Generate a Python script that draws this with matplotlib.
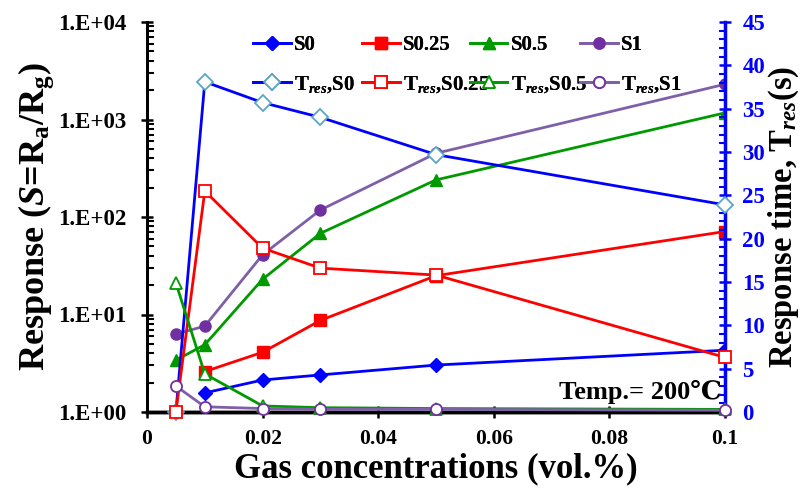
import matplotlib
matplotlib.use('Agg')
import matplotlib.pyplot as plt
from matplotlib.ticker import LogLocator, MultipleLocator, FixedLocator, NullFormatter

# data
conc = [0.005, 0.01, 0.02, 0.03, 0.05, 0.1]
s0 = [None, 1.57, 2.13, 2.4, 3.03, 4.3]
s025 = [None, 2.6, 4.1, 8.7, 25, 71]
s05 = [3.4, 4.9, 23, 68, 240, 1170]
s1 = [6.3, 7.6, 41, 118, 450, 2300]

tres_s0 = [0, 38.1, 35.7, 34.0, 29.7, 23.9]
tres_s025 = [0, 25.5, 18.9, 16.6, 15.8, 6.3]
tres_s05 = [14.9, 4.4, 0.7, 0.5, 0.4, 0.3]
tres_s1 = [3.0, 0.6, 0.4, 0.3, 0.3, 0.2]

x_ticks = [0, 0.02, 0.04, 0.06, 0.08, 0.1]
x_labels = ['0', '0.02', '0.04', '0.06', '0.08', '0.1']
y_ticks = [1, 10, 100, 1000, 10000]
y_labels = ['1.E+00', '1.E+01', '1.E+02', '1.E+03', '1.E+04']

plt.rcParams['font.family'] = ['Liberation Serif', 'DejaVu Serif']
plt.rcParams['font.weight'] = 'bold'
plt.rcParams['mathtext.fontset'] = 'custom'
plt.rcParams['mathtext.rm'] = 'Liberation Serif:bold'
plt.rcParams['mathtext.it'] = 'Liberation Serif:bold:italic'
plt.rcParams['mathtext.bf'] = 'Liberation Serif:bold'

blue = '#0000ff'
red = '#ff0000'
green = '#009a00'
purple = '#7030a0'
purple_line = '#7f60a8'
light_blue = '#5aa5c8'

fig = plt.figure(figsize=(8.06, 4.88), dpi=100)
ax = fig.add_axes([147/806, 1 - 412/488, (725 - 147)/806, (412 - 22)/488])
ax2 = ax.twinx()


def pairs(xs, ys):
    pts = [(a, b) for a, b in zip(xs, ys) if b is not None]
    return [p[0] for p in pts], [p[1] for p in pts]


# response curves (left, log scale)
x, y = pairs(conc, s0)
h1, = ax.plot(x, y, color=blue, lw=2, marker='D', ms=7, mfc=blue, mec=blue, label='S0')
x, y = pairs(conc, s025)
h2, = ax.plot(x, y, color=red, lw=2, marker='s', ms=8, mfc=red, mec=red, label='S0.25')
x, y = pairs(conc, s05)
h3, = ax.plot(x, y, color=green, lw=2, marker='^', ms=9, mfc=green, mec=green, label='S0.5')
x, y = pairs(conc, s1)
h4, = ax.plot(x, y, color=purple_line, lw=2, marker='o', ms=8, mfc=purple, mec=purple, label='S1')

# response time curves (right)
g1, = ax2.plot(conc, tres_s0, color=blue, lw=2, marker='D', ms=8, mfc='white', mec=light_blue,
               mew=1.3, label='T$_{\\mathit{res}}$,S0', clip_on=False, zorder=5)
g2, = ax2.plot(conc, tres_s025, color=red, lw=2, marker='s', ms=9, mfc='white', mec=red,
               mew=1.3, label='T$_{\\mathit{res}}$,S0.25', clip_on=False, zorder=5)
g3, = ax2.plot(conc, tres_s05, color=green, lw=2, marker='^', ms=9, mfc='white', mec=green,
               mew=1.3, label='T$_{\\mathit{res}}$,S0.5', clip_on=False, zorder=5)
g4, = ax2.plot(conc, tres_s1, color=purple_line, lw=2, marker='o', ms=8, mfc='white', mec=purple,
               mew=1.3, label='T$_{\\mathit{res}}$,S1', clip_on=False, zorder=5)

# left axis
ax.set_yscale('log')
ax.set_ylim(1, 10000)
ax.set_xlim(0, 0.1)
ax.yaxis.set_major_locator(FixedLocator(y_ticks))
ax.set_yticklabels(y_labels)
ax.yaxis.set_minor_locator(LogLocator(base=10, subs=range(2, 10)))
ax.yaxis.set_minor_formatter(NullFormatter())
ax.set_xticks(x_ticks)
ax.set_xticklabels(x_labels)
ax.tick_params(axis='y', which='major', direction='inout', length=9, width=1.8, labelsize=16.5, pad=10)
ax.tick_params(axis='y', which='minor', direction='in', length=5, width=1.5)
ax.tick_params(axis='x', which='major', direction='inout', length=9, width=1.8, labelsize=15.5, pad=8)
ax.set_ylabel('Response ($\\mathit{S}$=R$_\\mathrm{a}$/R$_\\mathrm{g}$)', fontsize=26,
              fontweight='bold', labelpad=2)
ax.set_xlabel('Gas concentrations (vol.%)', fontsize=25, fontweight='bold', labelpad=2)

# right axis
ax2.set_ylim(0, 45)
ax2.yaxis.set_major_locator(MultipleLocator(5))
ax2.yaxis.set_minor_locator(MultipleLocator(1))
ax2.tick_params(axis='y', which='major', direction='inout', length=9, width=1.8, colors=blue,
                labelsize=16.5, pad=8)
ax2.tick_params(axis='y', which='minor', direction='in', length=4, width=1.5, colors=blue)
for lbl in ax2.get_yticklabels():
    lbl.set_fontweight('bold')
ax2.set_ylabel('Response time, T$_{\\mathit{res}}$(s)', fontsize=23.5, fontweight='bold', labelpad=1)

for a in (ax, ax2):
    a.spines['top'].set_visible(False)
    a.spines['left'].set_linewidth(2)
    a.spines['bottom'].set_linewidth(2.5)
ax2.spines['right'].set_color(blue)
ax2.spines['right'].set_linewidth(2.5)
ax.spines['right'].set_visible(False)

ax.text(0.0995, 1.22, 'Temp.= 200\u2103', ha='right', va='bottom', fontsize=19, fontweight='bold')

# one small legend per column so the columns sit where they do in the original
col_x = [253, 362, 470, 580]
for cx, pair in zip(col_x, [(h1, g1), (h2, g2), (h3, g3), (h4, g4)]):
    leg = fig.legend(handles=list(pair), loc='upper left', bbox_to_anchor=(cx/806, 1 - 35/488),
                     frameon=False, fontsize=15, handlelength=1.8, handletextpad=0.15,
                     labelspacing=0.9, borderaxespad=0, borderpad=0)
    fig.add_artist(leg)

fig.savefig('out.png', dpi=100)
